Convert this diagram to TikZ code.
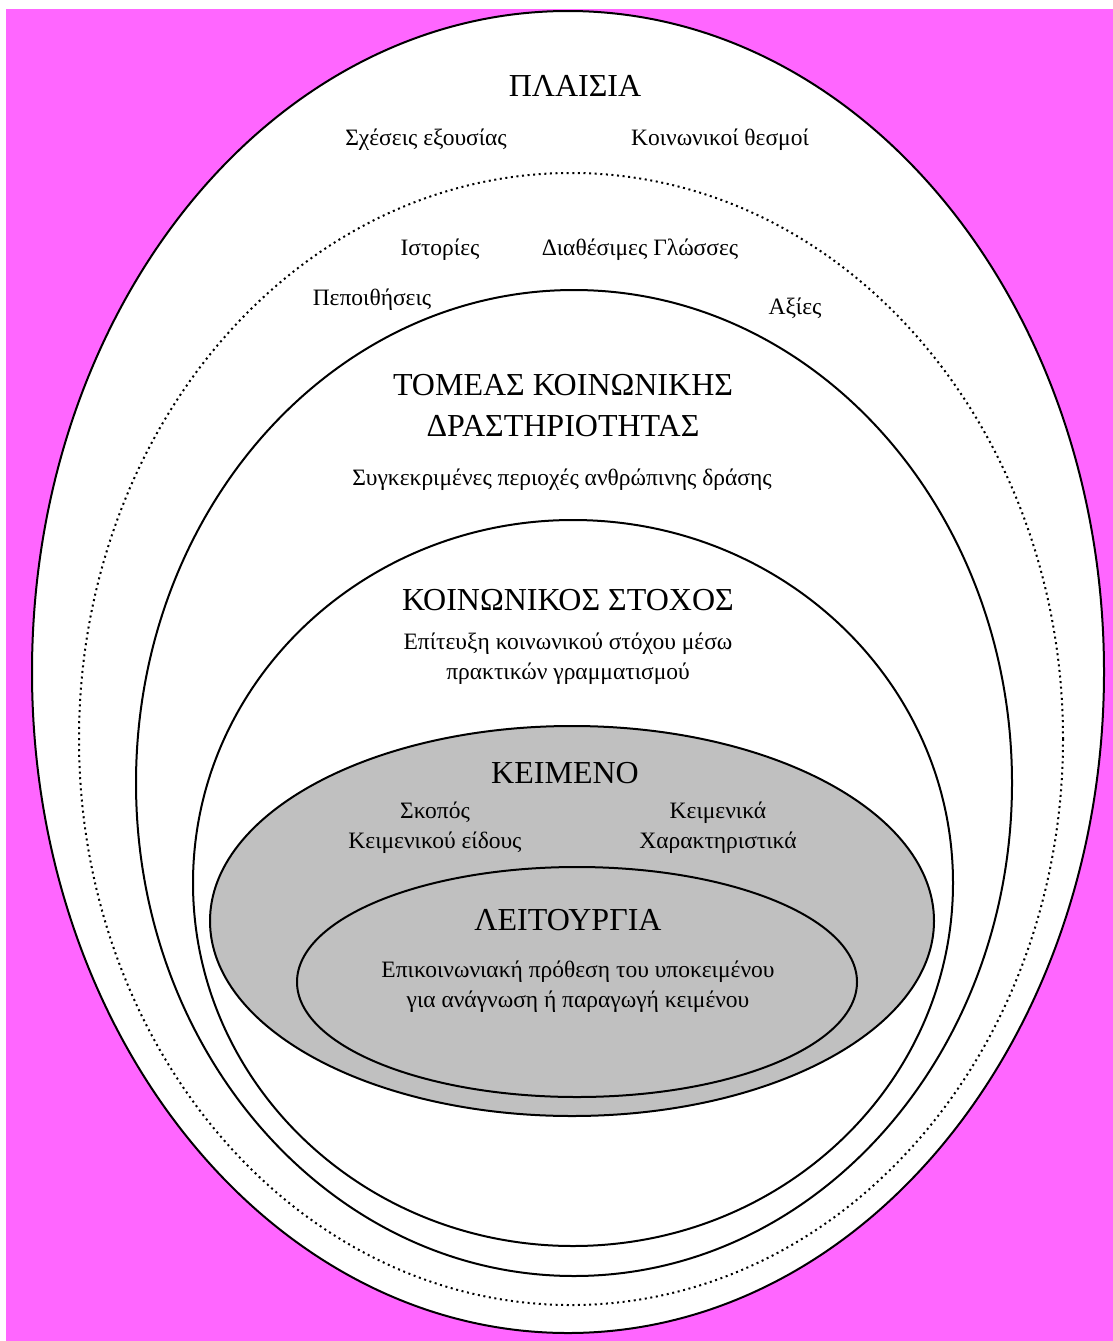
\documentclass[tikz,border=0pt]{standalone}
\usepackage{fontspec}
\setmainfont{Liberation Serif}
\definecolor{pagebg}{HTML}{FF66FF}
\definecolor{textgray}{HTML}{C0C0C0}
\begin{document}
\begin{tikzpicture}[x=1pt,y=-1pt,
  ring/.style={draw=black,line width=2pt},
  dotring/.style={draw=black,line width=2pt,dash pattern=on 2pt off 3.6pt},
  title/.style={font=\fontsize{32}{41}\selectfont,align=center,inner sep=0pt},
  label/.style={font=\fontsize{23.5}{30}\selectfont,align=center,inner sep=0pt}]
% canvas
\useasboundingbox (0,0) rectangle (1113,1341);
\fill[white] (0,0) rectangle (1113,1341);
\fill[pagebg] (6,9) rectangle (1113,1341);
% nested ellipses, outside in
\filldraw[ring,fill=white] (568,672) ellipse [x radius=536pt, y radius=661pt];
\draw[dotring] (571,739) ellipse [x radius=492pt, y radius=566pt];
\draw[ring] (574,783) ellipse [x radius=438pt, y radius=493pt];
\draw[ring] (573,883) ellipse [x radius=380pt, y radius=363pt];
\filldraw[ring,fill=textgray] (572,921) ellipse [x radius=362pt, y radius=195pt];
\draw[ring] (577,982) ellipse [x radius=280pt, y radius=115pt];
% contexts
\node[title] (plaisia) at (575,86) {ΠΛΑΙΣΙΑ};
\node[label] (sxeseis) at (426,140) {Σχέσεις εξουσίας};
\node[label] (thesmoi) at (720,140) {Κοινωνικοί θεσμοί};
\node[label] (istories) at (440,250) {Ιστορίες};
\node[label] (glosses) at (640,250) {Διαθέσιμες Γλώσσες};
\node[label] (pepoith) at (372,300) {Πεποιθήσεις};
\node[label] (axies) at (795,308) {Αξίες};
% domain of social activity
\node[title] (tomeas) at (563,406) {ΤΟΜΕΑΣ ΚΟΙΝΩΝΙΚΗΣ\\ΔΡΑΣΤΗΡΙΟΤΗΤΑΣ};
\node[label] (perioxes) at (562,480) {Συγκεκριμένες περιοχές ανθρώπινης δράσης};
% social goal
\node[title] (stoxos) at (568,600) {ΚΟΙΝΩΝΙΚΟΣ ΣΤΟΧΟΣ};
\node[label] (epiteuxi) at (568,659) {Επίτευξη κοινωνικού στόχου μέσω\\πρακτικών γραμματισμού};
% text
\node[title] (keimeno) at (565,773) {ΚΕΙΜΕΝΟ};
\node[label] (skopos) at (435,828) {Σκοπός\\Κειμενικού είδους};
\node[label] (xarakt) at (718,828) {Κειμενικά\\Χαρακτηριστικά};
% function
\node[title] (leitourgia) at (568,920) {ΛΕΙΤΟΥΡΓΙΑ};
\node[label] (prothesi) at (578,987) {Επικοινωνιακή πρόθεση του υποκειμένου\\για ανάγνωση ή παραγωγή κειμένου};
\end{tikzpicture}
\end{document}
